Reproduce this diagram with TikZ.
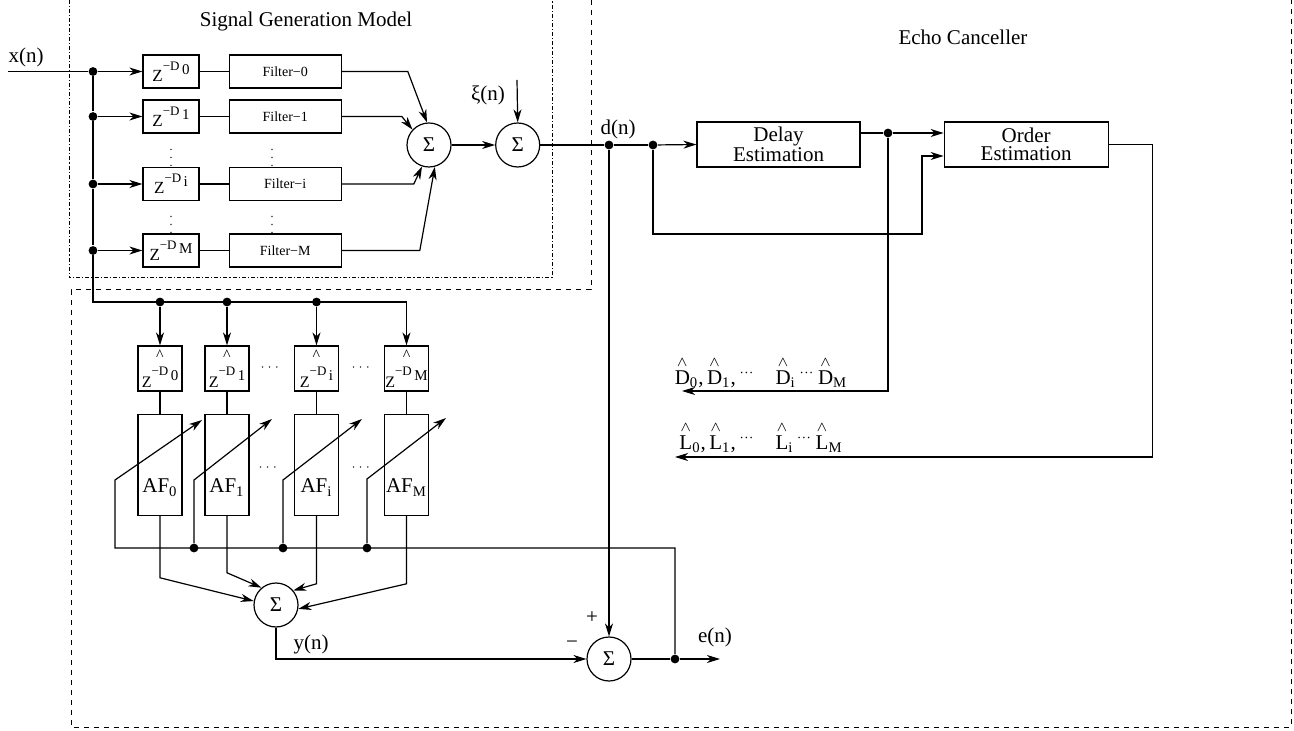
\documentclass[tikz,border=0pt]{standalone}
\usepackage{amsmath}
\usepackage{fontspec}
\setmainfont{Liberation Serif}
\usetikzlibrary{arrows.meta,positioning}
\newcommand{\zdel}[1]{Z\raisebox{5.6pt}{\fontsize{6.5}{7}\selectfont −D}\raisebox{3.5pt}{\fontsize{7.5}{8}\selectfont\,#1}}
\newcommand{\est}[2]{$\overset{\wedge}{\mathrm{#1}}_{\mathrm{#2}}$}
\tikzset{
	block/.style={draw, rectangle, inner sep=0pt},
	zbox/.style={block, minimum width=28pt, minimum height=16.5pt,
		font=\fontsize{8.5}{9}\selectfont},
	filterbox/.style={block, minimum width=56pt, minimum height=16.5pt,
		font=\fontsize{7}{8}\selectfont},
	hatbox/.style={block, minimum width=22pt, minimum height=22.5pt,
		align=center, font=\fontsize{8}{8}\selectfont},
	afbox/.style={block, minimum width=22pt, minimum height=50.5pt},
	estbox/.style={block, minimum width=81.5pt, minimum height=22.5pt,
		align=center, font=\fontsize{10.5}{9}\selectfont},
	sumnode/.style={draw, circle, minimum size=22pt, inner sep=0pt},
	dot/.style={circle, fill, inner sep=0pt, minimum size=4.4pt},
	sig/.style={-{Stealth[length=6.5pt,width=4pt,inset=2pt]}},
	sgframe/.style={dash pattern=on 2pt off 1pt on 0.6pt off 1pt, line width=0.5pt},
	ecframe/.style={dash pattern=on 2.5pt off 2.5pt, line width=0.5pt},
	smalldots/.style={font=\fontsize{6}{6}\selectfont}
}
\begin{document}
\begin{tikzpicture}[x=0.5pt,y=-0.5pt,line width=0.6pt,font=\fontsize{10.5}{12}\selectfont]
	\useasboundingbox (0,0) rectangle (1294,731);
	% frames
	\draw[sgframe] (69,0) -- (69,278) -- (552,278) -- (552,0);
	\draw[ecframe] (591,0) -- (591,290) -- (71,290) -- (71,727) -- (1291,727) -- (1291,0);
	\node (SGM) at (306,21) {Signal Generation Model};
	\node (EC) at (963,37) {Echo Canceller};

	% signal generation model
	\node (XN) at (26,57) {x(n)};
	\coordinate (In) at (8,71.5);
	\node[dot] (X0) at (93,71.5) {};
	\node[dot] (X1) at (93,116.5) {};
	\node[dot] (Xi) at (93,184) {};
	\node[dot] (XM) at (93,250.5) {};
	\node[zbox] (Z0) at (171,71.5) {\zdel{0}};
	\node[zbox] (Z1) at (171,116.5) {\zdel{1}};
	\node[zbox] (Zi) at (171,184) {\zdel{i}};
	\node[zbox] (ZM) at (171,250.5) {\zdel{M}};
	\node[filterbox] (F0) [right=14.5pt of Z0] {Filter−0};
	\node[filterbox] (F1) [right=14.5pt of Z1] {Filter−1};
	\node[filterbox] (Fi) [right=14.5pt of Zi] {Filter−i};
	\node[filterbox] (FM) [right=14.5pt of ZM] {Filter−M};
	\node[smalldots] (VZ1) at (171,152) {$\vdots$};
	\node[smalldots] (VF1) at (272,152) {$\vdots$};
	\node[smalldots] (VZ2) at (171,219) {$\vdots$};
	\node[smalldots] (VF2) at (272,219) {$\vdots$};
	\node[sumnode] (S1) at (429,145) {Σ};
	\node[sumnode] (S2) [right=21.75pt of S1] {Σ};
	\node (XI) at (488,95) {ξ(n)};
	\coordinate (XIin) at (517,80);

	\draw (In) -- (X0);
	\draw[sig] (X0) -- (Z0);
	\draw[sig] (X1) -- (Z1);
	\draw[sig] (Xi) -- (Zi);
	\draw[sig] (XM) -- (ZM);
	\draw (Z0) -- (F0);
	\draw (Z1) -- (F1);
	\draw (Zi) -- (Fi);
	\draw (ZM) -- (FM);
	\draw[sig] (F0.east) -- ++(66,0) -- (S1.95);
	\draw[sig] (F1.east) -- ++(60,0) -- (S1.137);
	\draw[sig] (Fi.east) -- ++(72,0) -- (S1.252);
	\draw[sig] (FM.east) -- ++(78,0) -- (S1.285);
	\draw[sig] (S1) -- (S2);
	\draw[sig] (XIin) -- (S2.north);

	% echo canceller: estimation
	\node[dot] (DN) at (609,145) {};
	\node (DNL) at (618,129) {d(n)};
	\node[dot] (DD) at (653,145) {};
	\node[estbox] (Delay) at (778.5,144.5) {Delay\\Estimation};
	\node[estbox, minimum width=82pt] (Order) [right=41.5pt of Delay] {Order\\Estimation};
	\node[dot] (DE) at (888,133) {};
	\coordinate (OL) at (922,234);
	\coordinate (DOut) at (682,391);
	\coordinate (LOut) at (675,457);
	\node (DL) at (761,372) {\est{D}{0},\,\est{D}{1},\,$^{\cdots}$\quad\est{D}{i}\,$^{\cdots}$\,\est{D}{M}};
	\node (LL) at (761,437) {\est{L}{0},\,\est{L}{1},\,$^{\cdots}$\quad\est{L}{i}\,$^{\cdots}$\,\est{L}{M}};

	\draw (S2.east) -- (DN) -- (DD);
	\draw[sig] (DD) -- (Delay.west);
	\draw ([yshift=5.75pt]Delay.east) -- (DE);
	\draw[sig] (DE) -- (DE -| Order.west);
	\draw[sig] (DD) |- (OL) |- ([yshift=-5.75pt]Order.west);
	\draw[sig] (DE) |- (DOut);
	\draw[sig] (Order.east) -- ++(44,0) |- (LOut);

	% adaptive filters
	\node[dot] (P0) at (160,302) {};
	\node[dot] (P1) at (227,302) {};
	\node[dot] (Pi) at (316.5,302) {};
	\coordinate (PM) at (406.5,302);
	\node[hatbox] (H0) at (160,368.5) {\textasciicircum\\[2.5pt]\zdel{0}};
	\node[hatbox] (H1) at (227,368.5) {\textasciicircum\\[2.5pt]\zdel{1}};
	\node[hatbox] (Hi) at (316.5,368.5) {\textasciicircum\\[2.5pt]\zdel{i}};
	\node[hatbox] (HM) at (406.5,368.5) {\textasciicircum\\[2.5pt]\zdel{M}};
	\node[smalldots] (HD1) at (271,368) {$\cdots$};
	\node[smalldots] (HD2) at (362,368) {$\cdots$};
	\node[afbox, label={[yshift=-11.5pt]center:AF\textsubscript{0}}] (A0) [below=11pt of H0] {};
	\node[afbox, label={[yshift=-11.5pt]center:AF\textsubscript{1}}] (A1) [below=11pt of H1] {};
	\node[afbox, label={[yshift=-11.5pt]center:AF\textsubscript{i}}] (Ai) [below=11pt of Hi] {};
	\node[afbox, label={[yshift=-11.5pt]center:AF\textsubscript{M}}] (AM) [below=11pt of HM] {};
	\node[smalldots] (AD1) at (269,468) {$\cdots$};
	\node[smalldots] (AD2) at (362,468) {$\cdots$};

	\draw (X0) -- (X1) -- (Xi) -- (XM);
	\draw (XM) |- (PM);
	\draw[sig] (P0) -- (H0);
	\draw[sig] (P1) -- (H1);
	\draw[sig] (Pi) -- (Hi);
	\draw[sig] (PM) -- (HM);
	\draw (H0) -- (A0);
	\draw (H1) -- (A1);
	\draw (Hi) -- (Ai);
	\draw (HM) -- (AM);

	% adaption bus
	\node[dot] (E) at (675,659) {};
	\coordinate (B0) at (115,548);
	\node[dot] (B1) at (194,548) {};
	\node[dot] (Bi) at (283,548) {};
	\node[dot] (BM) at (367,548) {};
	\coordinate (T0) at (202,420);
	\coordinate (T1) at (272,419);
	\coordinate (Ti) at (362,419);
	\coordinate (TM) at (446,418);
	\draw[sig] (E) |- (B0) -- ++(0,-68) -- (T0);
	\draw[sig] (B1) -- ++(0,-68) -- (T1);
	\draw[sig] (Bi) -- ++(0,-68) -- (Ti);
	\draw[sig] (BM) -- ++(0,-69) -- (TM);

	% output sums
	\node[sumnode] (S4) at (276,605) {Σ};
	\node[sumnode] (S3) at (609,659) {Σ};
	\node (YN) at (311,644) {y(n)};
	\node (PL) at (592,618) {+};
	\node (MI) at (572,645) {−};
	\node (EN) at (715,637) {e(n)};
	\coordinate (EOut) at (720,659);
	\draw[sig] (A0.south) -- ++(0,62) -- (S4.170);
	\draw[sig] (A1.south) -- ++(0,57) -- (S4.130);
	\draw[sig] (Ai.south) -- ++(0,68) -- (S4.40);
	\draw[sig] (AM.south) -- ++(0,68) -- (S4.-10);
	\draw[sig] (S4.south) |- (S3.west);
	\draw[sig] (DN) -- (S3.north);
	\draw (S3.east) -- (E);
	\draw[sig] (E) -- (EOut);
\end{tikzpicture}
\end{document}
